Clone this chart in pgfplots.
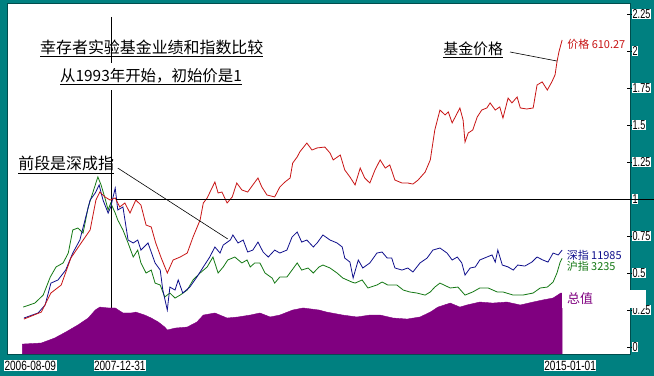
\documentclass[border=0pt]{standalone}
\usepackage{pgfplots}
\pgfplotsset{compat=1.18}
\usepackage{fontspec}
\setmainfont{Noto Sans CJK SC}
\newfontfamily\tickfont{Liberation Sans}[FakeStretch=0.7]
\newfontfamily\datefont{Liberation Sans}[FakeStretch=0.75]
\definecolor{cteal}{RGB}{0,128,128}
\definecolor{cred}{RGB}{200,20,20}
\definecolor{cblue}{RGB}{15,15,140}
\definecolor{cgreen}{RGB}{20,120,20}
\definecolor{cpurple}{RGB}{128,0,128}
\begin{document}
\begin{tikzpicture}
\useasboundingbox (0,0) rectangle (654bp,376bp);
\fill[cteal] (0,0) rectangle (654bp,376bp);
\begin{axis}[
  at={(7bp,22bp)}, anchor=south west, scale only axis,
  width=623bp, height=351bp,
  xmin=2006.367, xmax=2016.056, ymin=-0.047, ymax=2.324,
  axis background/.style={fill=white},
  axis line style={draw=black!40!cteal, line width=0.5bp},
  xtick={2006.605,2007.997,2015.0},
  xticklabels={2006-08-09,2007-12-31,2015-01-01},
  xtick style={draw=none},
  xticklabel style={font=\datefont\fontsize{13.5}{15}\selectfont, fill=white, inner sep=0.5bp, xshift=8bp, yshift=-3bp},
  ytick={0,0.25,0.5,0.75,1,1.25,1.5,1.75,2,2.25},
  yticklabels={0,0.25,0.5,0.75,1,1.25,1.5,1.75,2,2.25},
  ytick pos=right, yticklabel pos=right,
  yticklabel style={font=\tickfont\fontsize{13}{14}\selectfont, fill=white, inner sep=0.5bp, anchor=west, xshift=-1bp},
  ytick style={black, line width=0.6bp},
  tick align=center, major tick length=6bp,
  clip=false,
]
% reference lines
\draw[black, line width=0.7bp] (axis cs:2007.997,2.23) -- (axis cs:2007.997,-0.047);
% total value area
\addplot[draw=cpurple, fill=cpurple, line width=0.4bp] coordinates {
(2006.605,-0.047) (2006.605,0.02) (2006.90,0.027) (2007.11,0.061) (2007.28,0.101)
(2007.47,0.149) (2007.63,0.196) (2007.74,0.250) (2007.81,0.270) (2007.94,0.264)
(2008.05,0.264) (2008.17,0.230) (2008.30,0.230) (2008.37,0.236) (2008.51,0.216)
(2008.61,0.196) (2008.72,0.169) (2008.82,0.135) (2008.86,0.115) (2008.98,0.128)
(2009.17,0.135) (2009.32,0.169) (2009.42,0.216) (2009.60,0.230) (2009.79,0.196)
(2009.96,0.203) (2010.15,0.216) (2010.30,0.230) (2010.46,0.203) (2010.61,0.216)
(2010.81,0.250) (2010.97,0.264) (2011.22,0.250) (2011.34,0.236) (2011.59,0.216)
(2011.81,0.203) (2012.01,0.216) (2012.17,0.216) (2012.37,0.196) (2012.59,0.189)
(2012.79,0.203) (2012.95,0.236) (2013.07,0.270) (2013.26,0.297) (2013.41,0.270)
(2013.52,0.284) (2013.72,0.304) (2013.92,0.297) (2014.14,0.304) (2014.35,0.284)
(2014.55,0.304) (2014.70,0.318) (2014.86,0.331) (2014.98,0.365) (2015.00,0.365)
(2015.00,-0.047)
} -- cycle;
% Shanghai index
\addplot[cgreen, line width=0.8bp] coordinates {
(2006.62,0.270) (2006.80,0.297) (2006.93,0.351) (2007.04,0.473) (2007.13,0.541)
(2007.24,0.568) (2007.32,0.635) (2007.39,0.791) (2007.47,0.804) (2007.55,0.770)
(2007.63,0.946) (2007.70,1.041) (2007.78,1.149) (2007.83,1.095) (2007.89,1.007)
(2007.94,0.926) (2007.98,0.973) (2008.05,0.905) (2008.09,0.858) (2008.17,0.791)
(2008.25,0.703) (2008.33,0.608) (2008.40,0.655) (2008.45,0.568) (2008.53,0.500)
(2008.61,0.520) (2008.67,0.432) (2008.75,0.419) (2008.82,0.338) (2008.90,0.365)
(2008.98,0.331) (2009.06,0.351) (2009.17,0.385) (2009.26,0.453) (2009.37,0.500)
(2009.48,0.541) (2009.57,0.608) (2009.65,0.500) (2009.73,0.541) (2009.80,0.588)
(2009.91,0.608) (2010.02,0.568) (2010.10,0.588) (2010.15,0.541) (2010.22,0.568)
(2010.30,0.568) (2010.38,0.500) (2010.49,0.466) (2010.53,0.432) (2010.61,0.473)
(2010.72,0.473) (2010.80,0.520) (2010.88,0.568) (2010.95,0.520) (2011.05,0.534)
(2011.13,0.500) (2011.22,0.541) (2011.28,0.554) (2011.39,0.534) (2011.50,0.500)
(2011.59,0.466) (2011.73,0.439) (2011.78,0.432) (2011.89,0.453) (2011.98,0.399)
(2012.12,0.419) (2012.20,0.439) (2012.29,0.419) (2012.43,0.419) (2012.53,0.385)
(2012.63,0.372) (2012.74,0.365) (2012.87,0.351) (2012.95,0.372) (2013.02,0.405)
(2013.10,0.432) (2013.26,0.399) (2013.38,0.405) (2013.49,0.351) (2013.61,0.372)
(2013.72,0.399) (2013.85,0.399) (2013.99,0.372) (2014.08,0.372) (2014.24,0.351)
(2014.39,0.351) (2014.55,0.365) (2014.66,0.399) (2014.77,0.405) (2014.86,0.439)
(2014.92,0.500) (2014.97,0.574) (2015.00,0.600)
};
% Shenzhen index
\addplot[cblue, line width=0.8bp] coordinates {
(2006.63,0.196) (2006.85,0.230) (2006.96,0.284) (2007.05,0.432) (2007.16,0.453)
(2007.28,0.520) (2007.39,0.635) (2007.50,0.723) (2007.58,0.858) (2007.66,0.993)
(2007.74,1.041) (2007.80,1.095) (2007.86,0.993) (2007.94,0.905) (2007.98,0.946)
(2008.05,1.074) (2008.09,0.926) (2008.17,0.946) (2008.25,0.723) (2008.33,0.703)
(2008.40,0.723) (2008.45,0.655) (2008.56,0.703) (2008.67,0.568) (2008.75,0.520)
(2008.79,0.385) (2008.86,0.250) (2008.90,0.405) (2008.98,0.385) (2009.03,0.453)
(2009.10,0.365) (2009.21,0.405) (2009.32,0.473) (2009.42,0.541) (2009.52,0.608)
(2009.60,0.676) (2009.68,0.635) (2009.73,0.689) (2009.84,0.723) (2009.88,0.757)
(2009.96,0.703) (2010.04,0.723) (2010.11,0.642) (2010.19,0.655) (2010.27,0.709)
(2010.35,0.642) (2010.43,0.608) (2010.53,0.655) (2010.61,0.635) (2010.72,0.655)
(2010.80,0.743) (2010.88,0.777) (2010.95,0.709) (2011.03,0.723) (2011.13,0.676)
(2011.19,0.703) (2011.28,0.757) (2011.39,0.723) (2011.50,0.703) (2011.58,0.676)
(2011.62,0.601) (2011.70,0.574) (2011.75,0.466) (2011.83,0.588) (2011.90,0.534)
(2012.01,0.568) (2012.12,0.635) (2012.20,0.642) (2012.28,0.601) (2012.35,0.601)
(2012.40,0.534) (2012.51,0.520) (2012.60,0.534) (2012.68,0.507) (2012.79,0.568)
(2012.90,0.601) (2012.99,0.655) (2013.10,0.669) (2013.21,0.635) (2013.29,0.588)
(2013.37,0.608) (2013.44,0.568) (2013.49,0.486) (2013.57,0.534) (2013.65,0.541)
(2013.72,0.588) (2013.83,0.608) (2013.91,0.622) (2013.96,0.574) (2014.00,0.655)
(2014.07,0.554) (2014.16,0.541) (2014.24,0.520) (2014.31,0.554) (2014.42,0.547)
(2014.53,0.574) (2014.61,0.608) (2014.70,0.588) (2014.78,0.574) (2014.86,0.635)
(2014.94,0.622) (2015.00,0.655)
};
% fund price
\addplot[cred, line width=0.8bp] coordinates {
(2006.63,0.189) (2006.90,0.236) (2007.05,0.365) (2007.21,0.419) (2007.36,0.601)
(2007.52,0.703) (2007.66,0.791) (2007.75,0.993) (2007.81,1.047) (2007.89,1.014)
(2007.97,0.993) (2008.05,1.007) (2008.12,0.946) (2008.20,0.973) (2008.28,0.905)
(2008.37,0.993) (2008.45,0.959) (2008.53,0.824) (2008.61,0.811) (2008.68,0.703)
(2008.76,0.608) (2008.86,0.500) (2008.95,0.588) (2009.06,0.608) (2009.17,0.635)
(2009.26,0.743) (2009.37,0.858) (2009.42,0.973) (2009.48,1.007) (2009.60,1.115)
(2009.65,1.041) (2009.71,1.047) (2009.79,0.973) (2009.87,1.014) (2009.94,1.108)
(2010.02,1.061) (2010.11,1.047) (2010.19,1.095) (2010.27,1.142) (2010.33,1.081)
(2010.41,1.027) (2010.53,1.014) (2010.61,1.081) (2010.69,1.115) (2010.77,1.142)
(2010.81,1.243) (2010.88,1.284) (2010.92,1.318) (2011.03,1.378) (2011.11,1.331)
(2011.19,1.345) (2011.31,1.351) (2011.39,1.311) (2011.44,1.264) (2011.55,1.297)
(2011.62,1.196) (2011.70,1.149) (2011.78,1.095) (2011.86,1.209) (2011.93,1.142)
(2012.01,1.108) (2012.09,1.196) (2012.17,1.264) (2012.25,1.209) (2012.32,1.230)
(2012.40,1.128) (2012.51,1.108) (2012.60,1.108) (2012.68,1.101) (2012.76,1.128)
(2012.87,1.182) (2012.95,1.264) (2013.02,1.466) (2013.10,1.601) (2013.18,1.568)
(2013.23,1.588) (2013.29,1.514) (2013.37,1.581) (2013.41,1.615) (2013.46,1.534)
(2013.49,1.385) (2013.54,1.446) (2013.61,1.466) (2013.68,1.554) (2013.75,1.601)
(2013.83,1.615) (2013.88,1.649) (2013.96,1.601) (2014.03,1.622) (2014.08,1.547)
(2014.16,1.682) (2014.22,1.649) (2014.30,1.689) (2014.35,1.615) (2014.45,1.608)
(2014.55,1.615) (2014.61,1.770) (2014.69,1.791) (2014.77,1.736) (2014.84,1.791)
(2014.89,1.838) (2014.92,1.926) (2014.95,1.993) (2015.00,2.074)
};
% annotation pointer lines
\draw[black, line width=0.6bp] (axis cs:2008.09,1.209) -- (axis cs:2009.80,0.730);
\draw[black, line width=0.6bp] (axis cs:2014.19,1.993) -- (axis cs:2014.92,1.932);
% texts
\node[anchor=base west, inner sep=0pt, font=\fontsize{16}{18}\selectfont] at (axis cs:2006.88,1.986) {\underline{幸存者实验基金业绩和指数比较}};
\node[anchor=base west, fill=white, inner xsep=0pt, inner ysep=5bp, font=\fontsize{15.5}{18}\selectfont] at (axis cs:2007.19,1.797) {\underline{从1993年开始，初始价是1}};
\node[anchor=base west, inner sep=0pt, font=\fontsize{16}{18}\selectfont] at (axis cs:2006.54,1.196) {\underline{前段是深成指}};
\node[anchor=base west, inner sep=0pt, font=\fontsize{15}{18}\selectfont] at (axis cs:2013.15,1.973) {\underline{基金价格}};
\node[anchor=base west, inner sep=0pt, text=cred, font=\fontsize{11}{13}\selectfont] at (axis cs:2015.08,2.020) {价格 610.27};
\node[anchor=base west, inner sep=0pt, text=cblue, font=\fontsize{11}{13}\selectfont] at (axis cs:2015.07,0.588) {深指 11985};
\node[anchor=base west, inner sep=0pt, text=cgreen, font=\fontsize{11}{13}\selectfont] at (axis cs:2015.07,0.520) {沪指 3235};
\end{axis}
% horizontal reference line at 1, running over the tick label as in the original
\draw[black, line width=0.7bp] (116bp,177bp) -- (654bp,177bp);
\fill[white] (562bp,68bp) rectangle (646bp,86bp);
\node[anchor=base west, inner sep=0pt, text=cpurple, font=\fontsize{13}{15}\selectfont] at (567bp,72bp) {总值};
\end{tikzpicture}
\end{document}
